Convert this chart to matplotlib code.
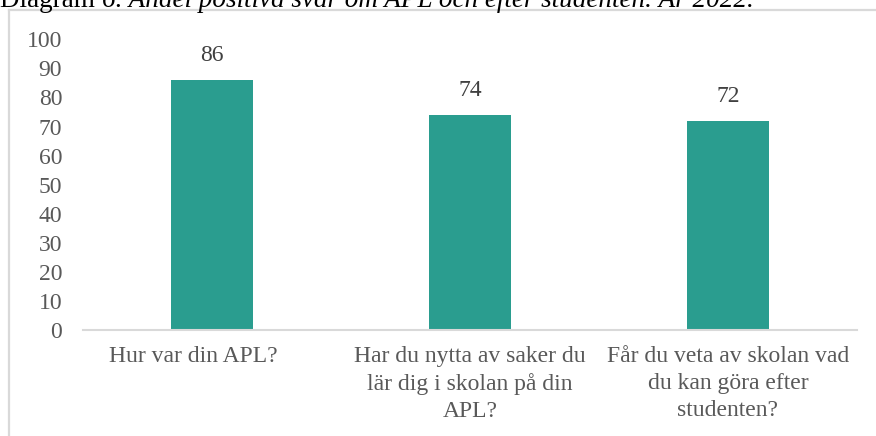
import matplotlib
matplotlib.use("Agg")
import matplotlib.pyplot as plt
from matplotlib.lines import Line2D

# data
categories = [
    "Hur var din APL?",
    "Har du nytta av saker du\nlär dig i skolan på din\nAPL?",
    "Får du veta av skolan vad\ndu kan göra efter\nstudenten?",
]
values = [86, 74, 72]
yticks = [0, 10, 20, 30, 40, 50, 60, 70, 80, 90, 100]

plt.rcParams["font.family"] = ["Liberation Serif", "DejaVu Serif"]

W, H = 876, 436
fig = plt.figure(figsize=(W / 100, H / 100), dpi=100)
ax = fig.add_axes([83 / W, (H - 330) / H, (857 - 83) / W, (330 - 39.3) / H])

x = list(range(len(categories)))
ax.bar(x, values, width=0.314, color="#2a9d8f", zorder=2)
for xi, v in zip(x, values):
    ax.annotate(str(v), (xi, v), xytext=(0, 10), textcoords="offset points",
                ha="center", va="bottom", fontsize=17, color="#404040")

ax.set_xlim(-0.5, 2.5)
ax.set_ylim(0, 100)
ax.set_yticks(yticks)
ax.set_yticklabels([str(t) for t in yticks], fontsize=17, color="#595959")
ax.set_xticks(x)
ax.set_xticklabels([])
ax.tick_params(axis="y", length=0, pad=15)
ax.tick_params(axis="x", length=0)

# category labels, Excel puts the single-line one a bit to the left
label_shift = [-19, 0, 0]
for xi, lab, dx in zip(x, categories, label_shift):
    ax.annotate(lab, (xi, 0), xycoords=("data", "axes fraction"),
                xytext=(dx, -16), textcoords="offset pixels",
                ha="center", va="top", fontsize=17, color="#595959",
                linespacing=1.38, annotation_clip=False)

for side in ["top", "right", "left"]:
    ax.spines[side].set_visible(False)
ax.spines["bottom"].set_color("#d9d9d9")
ax.spines["bottom"].set_linewidth(1.5)

# chart frame (only top and left edges are visible in the crop)
fig.add_artist(Line2D([8.5 / W, 8.5 / W], [0, (H - 10) / H], transform=fig.transFigure,
                      color="#d9d9d9", lw=1.6))
fig.add_artist(Line2D([8.5 / W, 1], [(H - 10) / H, (H - 10) / H], transform=fig.transFigure,
                      color="#d9d9d9", lw=1.6))

# caption, cut off at the top edge
t1 = fig.text(0, 1 - 7 / H, "Diagram ", fontsize=19.5, va="baseline", ha="left", color="black")
fig.canvas.draw()
bb = t1.get_window_extent()
fig.text(bb.x1 / W, 1 - 7 / H, "6. Andel positiva svar om APL och efter studenten. År 2022.",
         fontsize=19.5, style="italic", va="baseline", ha="left", color="black")

fig.savefig("out.png", dpi=100)
